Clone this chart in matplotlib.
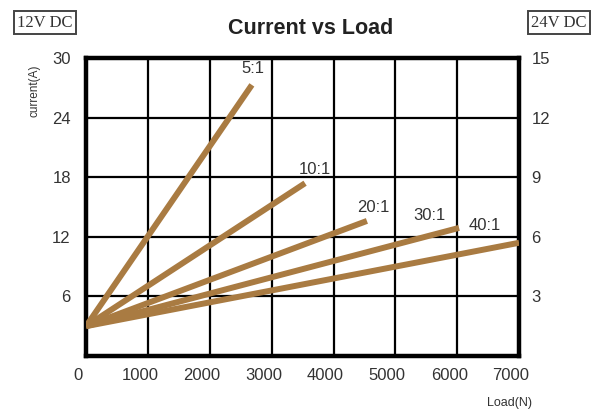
import matplotlib.pyplot as plt
from matplotlib.transforms import ScaledTranslation

plt.rcParams['font.family'] = ['Liberation Sans', 'DejaVu Sans']

# Data
ratios = ['5:1', '10:1', '20:1', '30:1', '40:1']
start_load = [0, 0, 0, 0, 0]
start_current = [3.0, 3.0, 3.0, 3.0, 3.0]
end_load = [2680, 3540, 4540, 6030, 7000]
end_current = [27.3, 17.4, 13.6, 12.9, 11.4]
label_load = [2700, 3700, 4650, 5550, 6450]
label_current = [28.2, 18.0, 14.2, 13.4, 12.4]

left_ticks = [6, 12, 18, 24, 30]
right_ticks = [3, 6, 9, 12, 15]
x_ticks = [0, 1000, 2000, 3000, 4000, 5000, 6000, 7000]

line_color = '#a97b42'
text_color = '#333333'

fig = plt.figure(figsize=(5.98, 4.12), dpi=100)
ax = fig.add_axes([0.144, 0.136, 0.724, 0.723])

# grid
for xv in x_ticks[1:-1]:
    ax.axvline(xv, color='black', lw=1.6, zorder=1)
for yv in left_ticks[:-1]:
    ax.axhline(yv, color='black', lw=1.6, zorder=1)

for i in range(len(ratios)):
    ax.plot([start_load[i], end_load[i]], [start_current[i], end_current[i]],
            color=line_color, lw=4.3, solid_capstyle='butt', zorder=3)
    ax.text(label_load[i], label_current[i], ratios[i], fontsize=12,
            color=text_color, ha='center', va='bottom')

ax.set_xlim(0, 7000)
ax.set_ylim(0, 30)
ax.set_xticks(x_ticks)
ax.set_yticks(left_ticks)
ax.tick_params(axis='x', length=0, labelsize=12, labelcolor=text_color, pad=9)
ax.tick_params(axis='y', length=0, labelsize=12, labelcolor=text_color, pad=11)
shift = ScaledTranslation(-8 / 100, 0, fig.dpi_scale_trans)
for lab in ax.get_xticklabels():
    lab.set_transform(lab.get_transform() + shift)
for s in ax.spines.values():
    s.set_linewidth(3.2)
    s.set_color('black')

ax2 = ax.twinx()
ax2.set_ylim(0, 15)
ax2.set_yticks(right_ticks)
ax2.tick_params(length=0, labelsize=12, labelcolor=text_color, pad=9)
for s in ax2.spines.values():
    s.set_visible(False)

fig.text(0.52, 0.932, 'Current vs Load', fontsize=15.5, fontweight='bold',
         ha='center', va='center', color='#222222')
fig.text(0.058, 0.78, 'current(A)', fontsize=8.5, rotation=90,
         ha='center', va='center', color=text_color)
fig.text(0.89, 0.022, 'Load(N)', fontsize=9, ha='right', va='center',
         color=text_color)

box = dict(boxstyle='square,pad=0.2', fc='white', ec='#444444', lw=1.4)
fig.text(0.075, 0.945, '12V DC', fontsize=12, family='Liberation Serif',
         ha='center', va='center', color='#333333', bbox=box)
fig.text(0.935, 0.945, '24V DC', fontsize=12, family='Liberation Serif',
         ha='center', va='center', color='#333333', bbox=box)

fig.savefig('out.png', dpi=100)
